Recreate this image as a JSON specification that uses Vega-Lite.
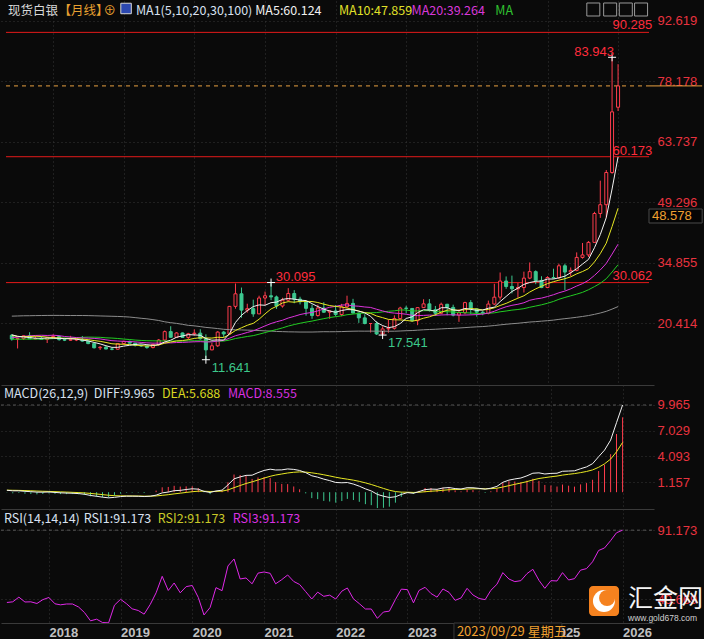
{
"$schema": "https://vega.github.io/schema/vega-lite/v6.json",
"background": "#0a0a0a",
"padding": 0,
"spacing": 0,
"bounds": "flush",
"config": {
  "view": {"stroke": null},
  "axis": {"domain": false, "ticks": false, "title": null, "gridColor": "#363636", "gridDash": [1, 3], "gridWidth": 1, "labelFont": "Liberation Sans", "labelFontSize": 13, "labelColor": "#e8333f", "labelPadding": 3}
},
"datasets": {
"k": [
{"d":"2017-06-01","o":17.5,"h":17.75,"l":16.2,"c":16.58,"m5":17.6,"m10":17.45,"m20":16.91,"m30":16.55,"m100":22.06,"dif":0.221,"dea":0.234,"macd":-0.026,"rsi":47.8},
{"d":"2017-07-01","o":16.58,"h":16.95,"l":14.33,"c":16.68,"m5":17.25,"m10":17.2,"m20":17.04,"m30":16.54,"m100":22.1,"dif":0.157,"dea":0.219,"macd":-0.124,"rsi":48.2},
{"d":"2017-08-01","o":16.68,"h":17.48,"l":16.37,"c":17.36,"m5":17.08,"m10":17.16,"m20":17.22,"m30":16.56,"m100":22.15,"dif":0.159,"dea":0.207,"macd":-0.096,"rsi":51.0},
{"d":"2017-09-01","o":17.36,"h":18.22,"l":16.61,"c":16.65,"m5":16.95,"m10":17.18,"m20":17.35,"m30":16.56,"m100":22.16,"dif":0.101,"dea":0.186,"macd":-0.17,"rsi":48.1},
{"d":"2017-10-01","o":16.65,"h":17.38,"l":16.51,"c":16.7,"m5":16.79,"m10":17.26,"m20":17.44,"m30":16.58,"m100":22.19,"dif":0.06,"dea":0.161,"macd":-0.202,"rsi":48.2},
{"d":"2017-11-01","o":16.7,"h":17.35,"l":16.45,"c":16.47,"m5":16.77,"m10":17.18,"m20":17.49,"m30":16.56,"m100":22.21,"dif":0.008,"dea":0.13,"macd":-0.244,"rsi":47.2},
{"d":"2017-12-01","o":16.47,"h":17.1,"l":15.63,"c":16.92,"m5":16.82,"m10":17.04,"m20":17.44,"m30":16.61,"m100":22.23,"dif":0.003,"dea":0.105,"macd":-0.204,"rsi":49.5},
{"d":"2018-01-01","o":16.92,"h":17.7,"l":16.9,"c":17.2,"m5":16.79,"m10":16.94,"m20":17.5,"m30":16.69,"m100":22.24,"dif":0.021,"dea":0.088,"macd":-0.134,"rsi":50.8},
{"d":"2018-02-01","o":17.2,"h":17.42,"l":16.2,"c":16.43,"m5":16.74,"m10":16.85,"m20":17.39,"m30":16.75,"m100":22.24,"dif":-0.026,"dea":0.065,"macd":-0.182,"rsi":47.0},
{"d":"2018-03-01","o":16.43,"h":16.9,"l":16.1,"c":16.32,"m5":16.67,"m10":16.73,"m20":17.2,"m30":16.81,"m100":22.22,"dif":-0.071,"dea":0.038,"macd":-0.218,"rsi":46.4},
{"d":"2018-04-01","o":16.32,"h":17.35,"l":16.18,"c":16.4,"m5":16.65,"m10":16.71,"m20":17.08,"m30":16.84,"m100":22.21,"dif":-0.099,"dea":0.011,"macd":-0.22,"rsi":46.9},
{"d":"2018-05-01","o":16.4,"h":16.72,"l":16.1,"c":16.4,"m5":16.55,"m10":16.69,"m20":16.94,"m30":16.92,"m100":22.21,"dif":-0.12,"dea":-0.015,"macd":-0.21,"rsi":46.9},
{"d":"2018-06-01","o":16.4,"h":17.32,"l":15.96,"c":16.1,"m5":16.33,"m10":16.56,"m20":16.86,"m30":17.0,"m100":22.21,"dif":-0.159,"dea":-0.044,"macd":-0.23,"rsi":45.1},
{"d":"2018-07-01","o":16.1,"h":16.2,"l":15.35,"c":15.5,"m5":16.14,"m10":16.44,"m20":16.81,"m30":17.05,"m100":22.19,"dif":-0.236,"dea":-0.082,"macd":-0.308,"rsi":41.8},
{"d":"2018-08-01","o":15.5,"h":15.56,"l":14.34,"c":14.5,"m5":15.78,"m10":16.22,"m20":16.74,"m30":17.03,"m100":22.15,"dif":-0.373,"dea":-0.14,"macd":-0.466,"rsi":36.8},
{"d":"2018-09-01","o":14.5,"h":14.9,"l":13.97,"c":14.63,"m5":15.43,"m10":16.04,"m20":16.61,"m30":17.0,"m100":22.11,"dif":-0.465,"dea":-0.205,"macd":-0.52,"rsi":37.8},
{"d":"2018-10-01","o":14.63,"h":14.97,"l":14.17,"c":14.2,"m5":14.99,"m10":15.77,"m20":16.4,"m30":16.88,"m100":22.07,"dif":-0.567,"dea":-0.277,"macd":-0.58,"rsi":35.8},
{"d":"2018-11-01","o":14.2,"h":14.54,"l":13.9,"c":14.15,"m5":14.6,"m10":15.46,"m20":16.2,"m30":16.82,"m100":22.03,"dif":-0.644,"dea":-0.35,"macd":-0.588,"rsi":35.6},
{"d":"2018-12-01","o":14.15,"h":15.6,"l":14.1,"c":15.5,"m5":14.6,"m10":15.37,"m20":16.11,"m30":16.72,"m100":21.99,"dif":-0.59,"dea":-0.398,"macd":-0.384,"rsi":46.2},
{"d":"2019-01-01","o":15.5,"h":16.19,"l":15.25,"c":16.03,"m5":14.9,"m10":15.34,"m20":16.04,"m30":16.58,"m100":21.93,"dif":-0.499,"dea":-0.418,"macd":-0.162,"rsi":49.7},
{"d":"2019-02-01","o":16.03,"h":16.2,"l":15.55,"c":15.6,"m5":15.1,"m10":15.26,"m20":15.99,"m30":16.47,"m100":21.84,"dif":-0.456,"dea":-0.426,"macd":-0.06,"rsi":47.0},
{"d":"2019-03-01","o":15.6,"h":15.68,"l":14.8,"c":15.11,"m5":15.28,"m10":15.13,"m20":15.91,"m30":16.34,"m100":21.71,"dif":-0.456,"dea":-0.432,"macd":-0.048,"rsi":44.0},
{"d":"2019-04-01","o":15.11,"h":15.33,"l":14.7,"c":14.93,"m5":15.43,"m10":15.02,"m20":15.79,"m30":16.25,"m100":21.55,"dif":-0.465,"dea":-0.439,"macd":-0.052,"rsi":43.0},
{"d":"2019-05-01","o":14.93,"h":14.98,"l":14.26,"c":14.55,"m5":15.24,"m10":14.92,"m20":15.68,"m30":16.18,"m100":21.42,"dif":-0.497,"dea":-0.451,"macd":-0.092,"rsi":40.8},
{"d":"2019-06-01","o":14.55,"h":15.49,"l":14.35,"c":15.28,"m5":15.09,"m10":15.0,"m20":15.61,"m30":16.16,"m100":21.23,"dif":-0.458,"dea":-0.452,"macd":-0.012,"rsi":46.6},
{"d":"2019-07-01","o":15.28,"h":16.6,"l":14.98,"c":16.35,"m5":15.24,"m10":15.17,"m20":15.61,"m30":16.13,"m100":21.02,"dif":-0.338,"dea":-0.429,"macd":0.182,"rsi":53.6},
{"d":"2019-08-01","o":16.35,"h":18.63,"l":16.02,"c":18.36,"m5":15.89,"m10":15.59,"m20":15.68,"m30":16.13,"m100":20.71,"dif":-0.079,"dea":-0.359,"macd":0.56,"rsi":63.5},
{"d":"2019-09-01","o":18.36,"h":19.65,"l":16.95,"c":17.0,"m5":16.31,"m10":15.87,"m20":15.67,"m30":16.09,"m100":20.5,"dif":0.016,"dea":-0.284,"macd":0.6,"rsi":55.0},
{"d":"2019-10-01","o":17.0,"h":18.2,"l":16.88,"c":18.04,"m5":17.01,"m10":16.13,"m20":15.75,"m30":16.11,"m100":20.33,"dif":0.174,"dea":-0.192,"macd":0.732,"rsi":59.5},
{"d":"2019-11-01","o":18.04,"h":18.15,"l":16.85,"c":16.97,"m5":17.34,"m10":16.22,"m20":15.78,"m30":16.1,"m100":20.1,"dif":0.21,"dea":-0.112,"macd":0.644,"rsi":53.6},
{"d":"2019-12-01","o":16.97,"h":18.07,"l":16.6,"c":17.85,"m5":17.64,"m10":16.44,"m20":15.85,"m30":16.14,"m100":19.86,"dif":0.306,"dea":-0.028,"macd":0.668,"rsi":57.3},
{"d":"2020-01-01","o":17.85,"h":18.9,"l":17.38,"c":18.0,"m5":17.57,"m10":16.73,"m20":15.93,"m30":16.18,"m100":19.74,"dif":0.39,"dea":0.056,"macd":0.668,"rsi":58.0},
{"d":"2020-02-01","o":18.0,"h":18.93,"l":16.44,"c":16.66,"m5":17.5,"m10":16.91,"m20":15.96,"m30":16.16,"m100":19.56,"dif":0.345,"dea":0.114,"macd":0.462,"rsi":50.8},
{"d":"2020-03-01","o":16.66,"h":17.72,"l":11.641,"c":14.0,"m5":16.7,"m10":16.85,"m20":15.89,"m30":16.07,"m100":19.37,"dif":0.093,"dea":0.11,"macd":-0.034,"rsi":40.3},
{"d":"2020-04-01","o":14.0,"h":15.71,"l":13.9,"c":14.97,"m5":16.3,"m10":16.82,"m20":15.91,"m30":16.01,"m100":19.24,"dif":-0.028,"dea":0.082,"macd":-0.22,"rsi":44.8},
{"d":"2020-05-01","o":14.97,"h":18.47,"l":14.7,"c":18.25,"m5":16.38,"m10":17.01,"m20":16.09,"m30":16.07,"m100":19.09,"dif":0.139,"dea":0.093,"macd":0.092,"rsi":56.7},
{"d":"2020-06-01","o":18.25,"h":18.52,"l":17.0,"c":17.8,"m5":16.34,"m10":16.95,"m20":16.27,"m30":16.1,"m100":18.92,"dif":0.232,"dea":0.121,"macd":0.222,"rsi":54.9},
{"d":"2020-07-01","o":17.8,"h":24.5,"l":17.8,"c":24.4,"m5":17.88,"m10":17.69,"m20":16.78,"m30":16.34,"m100":18.84,"dif":0.829,"dea":0.263,"macd":1.132,"rsi":69.7},
{"d":"2020-08-01","o":24.4,"h":29.86,"l":23.83,"c":27.4,"m5":20.56,"m10":18.63,"m20":17.38,"m30":16.71,"m100":18.8,"dif":1.527,"dea":0.516,"macd":2.022,"rsi":73.9},
{"d":"2020-09-01","o":27.4,"h":28.9,"l":21.68,"c":23.5,"m5":22.27,"m10":19.28,"m20":17.75,"m30":16.95,"m100":18.76,"dif":1.745,"dea":0.762,"macd":1.966,"rsi":61.9},
{"d":"2020-10-01","o":23.5,"h":25.03,"l":22.9,"c":23.85,"m5":23.39,"m10":19.88,"m20":18.16,"m30":17.2,"m100":18.72,"dif":1.924,"dea":0.994,"macd":1.86,"rsi":62.5},
{"d":"2020-11-01","o":23.85,"h":26.0,"l":21.9,"c":22.6,"m5":24.35,"m10":20.34,"m20":18.54,"m30":17.4,"m100":18.67,"dif":1.943,"dea":1.184,"macd":1.518,"rsi":59.0},
{"d":"2020-12-01","o":22.6,"h":26.95,"l":22.55,"c":26.4,"m5":24.75,"m10":21.32,"m20":19.11,"m30":17.75,"m100":18.62,"dif":2.238,"dea":1.395,"macd":1.686,"rsi":65.4},
{"d":"2021-01-01","o":26.4,"h":27.93,"l":24.67,"c":26.93,"m5":24.66,"m10":22.61,"m20":19.73,"m30":18.13,"m100":18.54,"dif":2.486,"dea":1.613,"macd":1.746,"rsi":66.1},
{"d":"2021-02-01","o":26.93,"h":30.095,"l":25.87,"c":26.65,"m5":25.29,"m10":23.78,"m20":20.3,"m30":18.53,"m100":18.49,"dif":2.63,"dea":1.816,"macd":1.628,"rsi":65.3},
{"d":"2021-03-01","o":26.65,"h":26.98,"l":23.78,"c":24.48,"m5":25.41,"m10":24.4,"m20":20.71,"m30":18.86,"m100":18.4,"dif":2.539,"dea":1.961,"macd":1.156,"rsi":59.0},
{"d":"2021-04-01","o":24.48,"h":26.46,"l":24.1,"c":25.88,"m5":26.07,"m10":25.21,"m20":21.08,"m30":19.25,"m100":18.36,"dif":2.551,"dea":2.079,"macd":0.944,"rsi":61.5},
{"d":"2021-05-01","o":25.88,"h":28.75,"l":25.6,"c":27.47,"m5":26.28,"m10":25.52,"m20":21.61,"m30":19.69,"m100":18.31,"dif":2.658,"dea":2.195,"macd":0.926,"rsi":64.3},
{"d":"2021-06-01","o":27.47,"h":28.28,"l":25.14,"c":26.13,"m5":26.12,"m10":25.39,"m20":22.01,"m30":20.05,"m100":18.29,"dif":2.605,"dea":2.277,"macd":0.656,"rsi":60.4},
{"d":"2021-07-01","o":26.13,"h":26.7,"l":24.87,"c":25.5,"m5":25.89,"m10":25.59,"m20":22.44,"m30":20.36,"m100":18.26,"dif":2.484,"dea":2.318,"macd":0.332,"rsi":58.6},
{"d":"2021-08-01","o":25.5,"h":25.52,"l":22.18,"c":23.93,"m5":25.78,"m10":25.6,"m20":22.74,"m30":20.64,"m100":18.26,"dif":2.235,"dea":2.301,"macd":-0.132,"rsi":54.3},
{"d":"2021-09-01","o":23.93,"h":24.83,"l":21.42,"c":22.2,"m5":25.05,"m10":25.56,"m20":22.95,"m30":20.88,"m100":18.26,"dif":1.877,"dea":2.216,"macd":-0.678,"rsi":49.9},
{"d":"2021-10-01","o":22.2,"h":24.82,"l":21.95,"c":24.0,"m5":24.35,"m10":25.32,"m20":23.32,"m30":21.18,"m100":18.3,"dif":1.718,"dea":2.116,"macd":-0.796,"rsi":54.0},
{"d":"2021-11-01","o":24.0,"h":25.4,"l":22.85,"c":23.0,"m5":23.73,"m10":24.92,"m20":23.77,"m30":21.46,"m100":18.34,"dif":1.494,"dea":1.992,"macd":-0.996,"rsi":51.5},
{"d":"2021-12-01","o":23.0,"h":23.44,"l":21.42,"c":23.3,"m5":23.29,"m10":24.59,"m20":24.18,"m30":21.73,"m100":18.33,"dif":1.326,"dea":1.859,"macd":-1.066,"rsi":52.2},
{"d":"2022-01-01","o":23.3,"h":24.7,"l":22.0,"c":22.45,"m5":22.99,"m10":24.39,"m20":24.39,"m30":21.93,"m100":18.34,"dif":1.111,"dea":1.709,"macd":-1.196,"rsi":49.9},
{"d":"2022-02-01","o":22.45,"h":25.0,"l":22.05,"c":24.3,"m5":23.41,"m10":24.23,"m20":24.72,"m30":22.13,"m100":18.37,"dif":1.077,"dea":1.583,"macd":-1.012,"rsi":54.6},
{"d":"2022-03-01","o":24.3,"h":26.95,"l":24.0,"c":25.1,"m5":23.63,"m10":23.99,"m20":24.75,"m30":22.4,"m100":18.42,"dif":1.103,"dea":1.487,"macd":-0.768,"rsi":56.5},
{"d":"2022-04-01","o":25.1,"h":26.2,"l":22.7,"c":22.8,"m5":23.59,"m10":23.66,"m20":24.52,"m30":22.56,"m100":18.46,"dif":0.927,"dea":1.375,"macd":-0.896,"rsi":50.0},
{"d":"2022-05-01","o":22.8,"h":22.9,"l":20.45,"c":21.65,"m5":23.26,"m10":23.27,"m20":24.43,"m30":22.72,"m100":18.48,"dif":0.687,"dea":1.237,"macd":-1.1,"rsi":47.1},
{"d":"2022-06-01","o":21.65,"h":22.5,"l":20.1,"c":20.3,"m5":22.83,"m10":22.91,"m20":24.25,"m30":22.8,"m100":18.47,"dif":0.383,"dea":1.066,"macd":-1.366,"rsi":43.9},
{"d":"2022-07-01","o":20.3,"h":20.4,"l":18.15,"c":20.3,"m5":22.03,"m10":22.72,"m20":24.14,"m30":22.87,"m100":18.48,"dif":0.141,"dea":0.881,"macd":-1.48,"rsi":43.9},
{"d":"2022-08-01","o":20.3,"h":20.85,"l":17.55,"c":17.8,"m5":20.57,"m10":22.1,"m20":23.71,"m30":22.91,"m100":18.46,"dif":-0.25,"dea":0.655,"macd":-1.81,"rsi":38.3},
{"d":"2022-09-01","o":17.8,"h":19.65,"l":17.541,"c":19.0,"m5":19.81,"m10":21.7,"m20":23.31,"m30":23.08,"m100":18.47,"dif":-0.458,"dea":0.432,"macd":-1.78,"rsi":42.1},
{"d":"2022-10-01","o":19.0,"h":21.25,"l":18.1,"c":19.15,"m5":19.31,"m10":21.29,"m20":22.94,"m30":23.22,"m100":18.45,"dif":-0.604,"dea":0.225,"macd":-1.658,"rsi":42.6},
{"d":"2022-11-01","o":19.15,"h":22.25,"l":18.85,"c":21.5,"m5":19.55,"m10":21.19,"m20":22.79,"m30":23.33,"m100":18.46,"dif":-0.523,"dea":0.075,"macd":-1.196,"rsi":49.6},
{"d":"2022-12-01","o":21.5,"h":24.3,"l":21.3,"c":24.0,"m5":20.29,"m10":21.16,"m20":22.69,"m30":23.53,"m100":18.51,"dif":-0.255,"dea":0.009,"macd":-0.528,"rsi":55.8},
{"d":"2023-01-01","o":24.0,"h":24.55,"l":22.75,"c":23.9,"m5":21.51,"m10":21.04,"m20":22.52,"m30":23.52,"m100":18.58,"dif":-0.05,"dea":-0.003,"macd":-0.094,"rsi":55.5},
{"d":"2023-02-01","o":23.9,"h":24.0,"l":20.7,"c":20.97,"m5":21.9,"m10":20.86,"m20":22.26,"m30":23.3,"m100":18.62,"dif":-0.123,"dea":-0.027,"macd":-0.192,"rsi":47.6},
{"d":"2023-03-01","o":20.97,"h":24.2,"l":19.9,"c":24.1,"m5":22.89,"m10":21.1,"m20":22.19,"m30":23.32,"m100":18.71,"dif":0.071,"dea":-0.007,"macd":0.156,"rsi":55.0},
{"d":"2023-04-01","o":24.1,"h":26.1,"l":24.0,"c":25.0,"m5":23.59,"m10":21.57,"m20":22.24,"m30":23.36,"m100":18.8,"dif":0.294,"dea":0.053,"macd":0.482,"rsi":56.9},
{"d":"2023-05-01","o":25.0,"h":26.15,"l":23.15,"c":23.6,"m5":23.51,"m10":21.9,"m20":22.31,"m30":23.39,"m100":18.87,"dif":0.354,"dea":0.113,"macd":0.482,"rsi":53.2},
{"d":"2023-06-01","o":23.6,"h":24.5,"l":22.1,"c":22.75,"m5":23.28,"m10":22.4,"m20":22.25,"m30":23.27,"m100":18.93,"dif":0.33,"dea":0.156,"macd":0.348,"rsi":51.0},
{"d":"2023-07-01","o":22.75,"h":25.3,"l":22.5,"c":24.9,"m5":24.07,"m10":22.99,"m20":22.34,"m30":23.2,"m100":19.01,"dif":0.478,"dea":0.22,"macd":0.516,"rsi":55.9},
{"d":"2023-08-01","o":24.9,"h":25.0,"l":22.25,"c":24.15,"m5":24.08,"m10":23.49,"m20":22.39,"m30":23.12,"m100":19.09,"dif":0.529,"dea":0.282,"macd":0.494,"rsi":53.9},
{"d":"2023-09-01","o":24.15,"h":24.8,"l":22.0,"c":22.3,"m5":23.54,"m10":23.57,"m20":22.38,"m30":23.05,"m100":19.15,"dif":0.415,"dea":0.309,"macd":0.212,"rsi":49.1},
{"d":"2023-10-01","o":22.3,"h":23.7,"l":20.7,"c":22.85,"m5":23.39,"m10":23.45,"m20":22.31,"m30":22.95,"m100":19.22,"dif":0.365,"dea":0.32,"macd":0.09,"rsi":50.5},
{"d":"2023-11-01","o":22.85,"h":25.5,"l":22.5,"c":25.3,"m5":23.9,"m10":23.59,"m20":22.32,"m30":22.87,"m100":19.32,"dif":0.517,"dea":0.359,"macd":0.316,"rsi":56.3},
{"d":"2023-12-01","o":25.3,"h":25.9,"l":22.5,"c":23.8,"m5":23.68,"m10":23.88,"m20":22.37,"m30":22.8,"m100":19.42,"dif":0.511,"dea":0.389,"macd":0.244,"rsi":52.3},
{"d":"2024-01-01","o":23.8,"h":23.9,"l":21.93,"c":23.0,"m5":23.45,"m10":23.77,"m20":22.43,"m30":22.71,"m100":19.5,"dif":0.436,"dea":0.398,"macd":0.076,"rsi":50.2},
{"d":"2024-02-01","o":23.0,"h":23.3,"l":22.28,"c":22.7,"m5":23.53,"m10":23.54,"m20":22.55,"m30":22.67,"m100":19.57,"dif":0.349,"dea":0.388,"macd":-0.078,"rsi":49.5},
{"d":"2024-03-01","o":22.7,"h":25.77,"l":22.5,"c":24.95,"m5":23.95,"m10":23.67,"m20":22.79,"m30":22.76,"m100":19.68,"dif":0.456,"dea":0.402,"macd":0.108,"rsi":55.1},
{"d":"2024-04-01","o":24.95,"h":29.8,"l":24.7,"c":26.6,"m5":24.21,"m10":24.06,"m20":23.23,"m30":22.85,"m100":19.81,"dif":0.667,"dea":0.455,"macd":0.424,"rsi":58.7},
{"d":"2024-05-01","o":26.6,"h":32.5,"l":26.0,"c":30.45,"m5":25.54,"m10":24.61,"m20":23.8,"m30":23.1,"m100":19.97,"dif":1.131,"dea":0.59,"macd":1.082,"rsi":65.7},
{"d":"2024-06-01","o":30.45,"h":31.55,"l":28.6,"c":29.15,"m5":26.77,"m10":25.11,"m20":24.3,"m30":23.29,"m100":20.12,"dif":1.378,"dea":0.748,"macd":1.26,"rsi":61.9},
{"d":"2024-07-01","o":29.15,"h":31.75,"l":27.5,"c":28.6,"m5":27.95,"m10":25.74,"m20":24.65,"m30":23.5,"m100":20.25,"dif":1.512,"dea":0.901,"macd":1.222,"rsi":60.3},
{"d":"2024-08-01","o":28.6,"h":30.0,"l":26.45,"c":28.9,"m5":28.74,"m10":26.35,"m20":24.9,"m30":23.65,"m100":20.36,"dif":1.624,"dea":1.046,"macd":1.156,"rsi":60.9},
{"d":"2024-09-01","o":28.9,"h":32.7,"l":27.7,"c":31.15,"m5":29.65,"m10":26.93,"m20":25.26,"m30":23.85,"m100":20.51,"dif":1.872,"dea":1.211,"macd":1.322,"rsi":65.1},
{"d":"2024-10-01","o":31.15,"h":34.9,"l":30.9,"c":32.7,"m5":30.1,"m10":27.82,"m20":25.85,"m30":24.18,"m100":20.65,"dif":2.169,"dea":1.403,"macd":1.532,"rsi":67.7},
{"d":"2024-11-01","o":32.7,"h":33.0,"l":29.7,"c":30.6,"m5":30.39,"m10":28.58,"m20":26.17,"m30":24.48,"m100":20.75,"dif":2.21,"dea":1.564,"macd":1.292,"rsi":61.1},
{"d":"2024-12-01","o":30.6,"h":31.6,"l":28.75,"c":28.9,"m5":30.45,"m10":29.2,"m20":26.37,"m30":24.77,"m100":20.86,"dif":2.081,"dea":1.667,"macd":0.828,"rsi":56.3},
{"d":"2025-01-01","o":28.9,"h":31.6,"l":28.75,"c":31.3,"m5":30.93,"m10":29.84,"m20":26.75,"m30":25.14,"m100":20.98,"dif":2.148,"dea":1.763,"macd":0.77,"rsi":60.9},
{"d":"2025-02-01","o":31.3,"h":33.4,"l":31.0,"c":31.2,"m5":30.94,"m10":30.3,"m20":27.18,"m30":25.58,"m100":21.11,"dif":2.168,"dea":1.844,"macd":0.648,"rsi":60.7},
{"d":"2025-03-01","o":31.2,"h":34.6,"l":31.0,"c":34.1,"m5":31.22,"m10":30.66,"m20":27.64,"m30":26.09,"m100":21.29,"dif":2.391,"dea":1.953,"macd":0.876,"rsi":65.7},
{"d":"2025-04-01","o":34.1,"h":34.6,"l":28.3,"c":32.6,"m5":31.62,"m10":31.01,"m20":28.06,"m30":26.53,"m100":21.46,"dif":2.418,"dea":2.046,"macd":0.744,"rsi":61.3},
{"d":"2025-05-01","o":32.6,"h":33.7,"l":31.65,"c":33.0,"m5":32.44,"m10":31.45,"m20":28.59,"m30":26.92,"m100":21.61,"dif":2.443,"dea":2.125,"macd":0.636,"rsi":62.1},
{"d":"2025-06-01","o":33.0,"h":37.3,"l":32.8,"c":36.1,"m5":33.4,"m10":32.17,"m20":29.26,"m30":27.32,"m100":21.79,"dif":2.683,"dea":2.237,"macd":0.892,"rsi":67.2},
{"d":"2025-07-01","o":36.1,"h":39.55,"l":35.8,"c":36.7,"m5":34.5,"m10":32.72,"m20":29.83,"m30":27.75,"m100":21.98,"dif":2.888,"dea":2.367,"macd":1.042,"rsi":68.1},
{"d":"2025-08-01","o":36.7,"h":40.0,"l":36.2,"c":39.7,"m5":35.62,"m10":33.42,"m20":30.62,"m30":28.37,"m100":22.2,"dif":3.255,"dea":2.545,"macd":1.42,"rsi":72.2},
{"d":"2025-09-01","o":39.7,"h":47.0,"l":39.6,"c":46.6,"m5":38.42,"m10":35.02,"m20":31.8,"m30":29.12,"m100":22.49,"dif":4.056,"dea":2.847,"macd":2.418,"rsi":79.0},
{"d":"2025-10-01","o":46.6,"h":54.45,"l":45.55,"c":48.7,"m5":41.56,"m10":37.0,"m20":33.1,"m30":29.91,"m100":22.81,"dif":4.805,"dea":3.239,"macd":3.132,"rsi":80.5},
{"d":"2025-11-01","o":48.7,"h":57.0,"l":45.6,"c":56.4,"m5":45.62,"m10":39.51,"m20":34.67,"m30":31.01,"m100":23.21,"dif":5.952,"dea":3.782,"macd":4.34,"rsi":84.9},
{"d":"2025-12-01","o":56.4,"h":83.943,"l":56.1,"c":70.9,"m5":52.46,"m10":43.48,"m20":36.89,"m30":32.61,"m100":23.74,"dif":7.94,"dea":4.614,"macd":6.652,"rsi":89.6},
{"d":"2026-01-01","o":72.0,"h":82.3,"l":71.1,"c":77.1,"m5":60.124,"m10":47.859,"m20":39.264,"m30":34.36,"m100":24.35,"dif":9.965,"dea":5.688,"macd":8.555,"rsi":91.173}
]
},
"vconcat": [
{
  "width": 653, "height": 384,
  "data": {"name": "k"},
  "encoding": {
    "x": {"field": "d", "type": "temporal",
      "scale": {"type": "utc", "domain": [{"year": 2017, "month": 5, "date": 2, "utc": true}, {"year": 2026, "month": 6, "date": 10, "utc": true}]},
      "axis": {"values": [{"year":2018,"month":1,"date":1,"utc":true},{"year":2019,"month":1,"date":1,"utc":true},{"year":2020,"month":1,"date":1,"utc":true},{"year":2021,"month":1,"date":1,"utc":true},{"year":2022,"month":1,"date":1,"utc":true},{"year":2023,"month":1,"date":1,"utc":true},{"year":2024,"month":1,"date":1,"utc":true},{"year":2025,"month":1,"date":1,"utc":true},{"year":2026,"month":1,"date":1,"utc":true}],
        "labels": false, "grid": true, "domain": true, "domainColor": "#3a3a3a", "ticks": false, "title": null}}
  },
  "layer": [
    {"data": {"values": [{"d":"2017-05-02","d2":"2026-06-10","p":89.9},{"d":"2017-05-02","d2":"2026-06-10","p":60.173},{"d":"2017-05-02","d2":"2026-06-10","p":30.08}]},
     "mark": {"type": "rule", "color": "#e41a1a", "strokeWidth": 1},
     "encoding": {"x2": {"field": "d2"}, "y": {"field": "p", "type": "quantitative", "scale": {"domain": [5.6, 97.4], "nice": false, "zero": false},
       "axis": {"orient": "right", "values": [92.619, 78.178, 63.737, 49.296, 34.855, 20.414], "format": ".3f", "grid": true, "labelPadding": 3}}}},
    {"data": {"values": [{"d":"2017-05-02","d2":"2026-06-10","p":77.1}]},
     "mark": {"type": "rule", "color": "#e8a040", "strokeWidth": 1, "strokeDash": [4, 4]},
     "encoding": {"x2": {"field": "d2"}, "y": {"field": "p", "type": "quantitative", "scale": {"domain": [5.6, 97.4], "nice": false, "zero": false}}}},
    {"data": {"values": [{"d":"2026-06-10","d2":"2027-03-12","p":77.1}]},
     "mark": {"type": "rule", "color": "#e8a040", "strokeWidth": 1},
     "encoding": {"x2": {"field": "d2"}, "y": {"field": "p", "type": "quantitative", "scale": {"domain": [5.6, 97.4], "nice": false, "zero": false}}}},
    {"mark": {"type": "rule", "strokeWidth": 1},
     "encoding": {"y": {"field": "l", "type": "quantitative", "scale": {"domain": [5.6, 97.4], "nice": false, "zero": false}}, "y2": {"field": "h"},
       "color": {"condition": {"test": "datum.c >= datum.o", "value": "#ff3d4d"}, "value": "#3dc890"}}},
    {"mark": {"type": "bar", "size": 3, "strokeWidth": 1},
     "encoding": {"y": {"field": "o", "type": "quantitative", "scale": {"domain": [5.6, 97.4], "nice": false, "zero": false}}, "y2": {"field": "c"},
       "fill": {"condition": {"test": "datum.c >= datum.o", "value": "#0a0a0a"}, "value": "#3dc890"},
       "stroke": {"condition": {"test": "datum.c >= datum.o", "value": "#ff3d4d"}, "value": "#3dc890"}}},
    {"transform": [{"fold": ["m100", "m30", "m20", "m10", "m5"], "as": ["key", "val"]}],
     "mark": {"type": "line", "strokeWidth": 1},
     "encoding": {"y": {"field": "val", "type": "quantitative", "scale": {"domain": [5.6, 97.4], "nice": false, "zero": false}},
       "color": {"field": "key", "type": "nominal", "scale": {"domain": ["m100", "m30", "m20", "m10", "m5"], "range": ["#8c8c8c", "#22cc22", "#dd33dd", "#e8e822", "#f2f2f2"]}, "legend": null}}},
    {"data": {"values": [{"d":"2025-12-01","p":83.943},{"d":"2020-03-01","p":11.641},{"d":"2022-09-01","p":17.541},{"d":"2021-02-01","p":30.095}]},
     "mark": {"type": "point", "shape": "M-1,0L1,0M0,-1L0,1", "size": 64, "filled": false, "stroke": "#ffffff", "strokeWidth": 1, "opacity": 1},
     "encoding": {"y": {"field": "p", "type": "quantitative", "scale": {"domain": [5.6, 97.4], "nice": false, "zero": false}}}},
    {"data": {"values": [
       {"d":"2017-05-12","p":95.0,"t":"现货白银","s":"a"},
       {"d":"2018-01-28","p":95.0,"t":"【月线】","s":"b"},
       {"d":"2018-09-18","p":95.0,"t":"⊕","s":"b"},
       {"d":"2019-03-05","p":95.0,"t":"MA1(5,10,20,30,100)","s":"c"},
       {"d":"2020-11-11","p":95.0,"t":"MA5:60.124","s":"m5"},
       {"d":"2022-01-18","p":95.0,"t":"MA10:47.859","s":"m10"},
       {"d":"2023-01-29","p":95.0,"t":"MA20:39.264","s":"m20"},
       {"d":"2024-04-06","p":95.0,"t":"MA","s":"m30"}]},
     "mark": {"type": "text", "align": "left", "baseline": "middle", "font": "Noto Sans CJK SC", "fontSize": 12.5},
     "encoding": {"y": {"field": "p", "type": "quantitative", "scale": {"domain": [5.6, 97.4], "nice": false, "zero": false}}, "text": {"field": "t"},
       "color": {"field": "s", "type": "nominal", "scale": {"domain": ["a", "b", "c", "m5", "m10", "m20", "m30"], "range": ["#d8d8d8", "#e8a030", "#d8e0f0", "#f0f0f0", "#e0e028", "#d838d8", "#30c030"]}, "legend": null}}},
    {"data": {"values": [
       {"d":"2025-12-03","p":91.66,"t":"90.285","s":"r"},
       {"d":"2025-05-19","p":85.21,"t":"83.943","s":"r"},
       {"d":"2025-12-03","p":61.54,"t":"60.173","s":"r"},
       {"d":"2021-02-25","p":31.42,"t":"30.095","s":"r"},
       {"d":"2025-12-03","p":31.66,"t":"30.062","s":"r"},
       {"d":"2020-03-31","p":9.66,"t":"11.641","s":"g"},
       {"d":"2022-09-29","p":15.64,"t":"17.541","s":"g"}]},
     "mark": {"type": "text", "align": "left", "baseline": "middle", "font": "Liberation Sans", "fontSize": 13},
     "encoding": {"y": {"field": "p", "type": "quantitative", "scale": {"domain": [5.6, 97.4], "nice": false, "zero": false}}, "text": {"field": "t"},
       "color": {"field": "s", "type": "nominal", "scale": {"domain": ["r", "g"], "range": ["#ff2c3c", "#3cc88a"]}, "legend": null}}},
    {"data": {"values": [{"d":"2019-01-13","p":95.61}]},
     "mark": {"type": "point", "shape": "square", "size": 110, "filled": true, "fill": "#2c48b0", "stroke": "#d8d8d8", "strokeWidth": 1, "opacity": 1},
     "encoding": {"y": {"field": "p", "type": "quantitative", "scale": {"domain": [5.6, 97.4], "nice": false, "zero": false}}}},
    {"data": {"values": [{"d":"2025-08-26","p":95.37},{"d":"2025-11-21","p":95.37},{"d":"2026-02-10","p":95.37},{"d":"2026-04-30","p":95.37}]},
     "mark": {"type": "point", "shape": "square", "size": 169, "filled": false, "stroke": "#9a9a9a", "strokeWidth": 1, "opacity": 1},
     "encoding": {"y": {"field": "p", "type": "quantitative", "scale": {"domain": [5.6, 97.4], "nice": false, "zero": false}}}},
    {"data": {"values": [{"d":"2026-06-10","d2":"2027-03-12","p":47.67,"p2":44.33}]},
     "mark": {"type": "rect", "fill": "#050505", "stroke": "#4a4a4a", "strokeWidth": 1},
     "encoding": {"x2": {"field": "d2"}, "y": {"field": "p", "type": "quantitative", "scale": {"domain": [5.6, 97.4], "nice": false, "zero": false}}, "y2": {"field": "p2"}}},
    {"data": {"values": [{"d":"2026-06-25","p":46.0,"t":"48.578"}]},
     "mark": {"type": "text", "align": "left", "baseline": "middle", "font": "Liberation Sans", "fontSize": 13, "color": "#f0a030"},
     "encoding": {"y": {"field": "p", "type": "quantitative", "scale": {"domain": [5.6, 97.4], "nice": false, "zero": false}}, "text": {"field": "t"}}}
  ],
  "resolve": {"scale": {"color": "independent"}}
},
{
  "width": 653, "height": 124,
  "data": {"name": "k"},
  "encoding": {
    "x": {"field": "d", "type": "temporal",
      "scale": {"type": "utc", "domain": [{"year": 2017, "month": 5, "date": 2, "utc": true}, {"year": 2026, "month": 6, "date": 10, "utc": true}]},
      "axis": {"values": [{"year":2018,"month":1,"date":1,"utc":true},{"year":2019,"month":1,"date":1,"utc":true},{"year":2020,"month":1,"date":1,"utc":true},{"year":2021,"month":1,"date":1,"utc":true},{"year":2022,"month":1,"date":1,"utc":true},{"year":2023,"month":1,"date":1,"utc":true},{"year":2024,"month":1,"date":1,"utc":true},{"year":2025,"month":1,"date":1,"utc":true},{"year":2026,"month":1,"date":1,"utc":true}],
        "labels": false, "grid": true, "domain": true, "domainColor": "#3a3a3a", "ticks": false, "title": null}}
  },
  "layer": [
    {"data": {"values": [{"d":"2017-05-02","d2":"2026-06-10","v":9.965}]},
     "mark": {"type": "rule", "color": "#555555", "strokeWidth": 1, "strokeDash": [3, 3]},
     "encoding": {"x2": {"field": "d2"}, "y": {"field": "v", "type": "quantitative", "scale": {"domain": [-1.92, 12.25], "nice": false, "zero": false},
       "axis": {"orient": "right", "values": [9.965, 7.029, 4.093, 1.157], "format": ".3f", "grid": true, "labelPadding": 3}}}},
    {"mark": {"type": "rule", "strokeWidth": 1},
     "encoding": {"y": {"field": "macd", "type": "quantitative", "scale": {"domain": [-1.92, 12.25], "nice": false, "zero": false}}, "y2": {"datum": 0},
       "color": {"condition": {"test": "datum.macd >= 0", "value": "#ff3d4d"}, "value": "#3dc890"}}},
    {"transform": [{"fold": ["dea", "dif"], "as": ["key", "val"]}],
     "mark": {"type": "line", "strokeWidth": 1},
     "encoding": {"y": {"field": "val", "type": "quantitative", "scale": {"domain": [-1.92, 12.25], "nice": false, "zero": false}},
       "color": {"field": "key", "type": "nominal", "scale": {"domain": ["dea", "dif"], "range": ["#e8e822", "#f2f2f2"]}, "legend": null}}},
    {"data": {"values": [
       {"d":"2017-05-17","v":11.22,"t":"MACD(26,12,9)","s":"a"},
       {"d":"2018-08-18","v":11.22,"t":"DIFF:9.965","s":"a"},
       {"d":"2019-07-31","v":11.22,"t":"DEA:5.688","s":"y"},
       {"d":"2020-07-01","v":11.22,"t":"MACD:8.555","s":"m"}]},
     "mark": {"type": "text", "align": "left", "baseline": "middle", "font": "Noto Sans CJK SC", "fontSize": 12.5},
     "encoding": {"y": {"field": "v", "type": "quantitative", "scale": {"domain": [-1.92, 12.25], "nice": false, "zero": false}}, "text": {"field": "t"},
       "color": {"field": "s", "type": "nominal", "scale": {"domain": ["a", "y", "m"], "range": ["#d8e0f0", "#d8d820", "#d830e0"]}, "legend": null}}}
  ],
  "resolve": {"scale": {"color": "independent"}}
},
{
  "width": 653, "height": 114,
  "data": {"name": "k"},
  "encoding": {
    "x": {"field": "d", "type": "temporal",
      "scale": {"type": "utc", "domain": [{"year": 2017, "month": 5, "date": 2, "utc": true}, {"year": 2026, "month": 6, "date": 10, "utc": true}]},
      "axis": {"values": [{"year":2018,"month":1,"date":1,"utc":true},{"year":2019,"month":1,"date":1,"utc":true},{"year":2020,"month":1,"date":1,"utc":true},{"year":2021,"month":1,"date":1,"utc":true},{"year":2022,"month":1,"date":1,"utc":true},{"year":2023,"month":1,"date":1,"utc":true},{"year":2024,"month":1,"date":1,"utc":true},{"year":2025,"month":1,"date":1,"utc":true},{"year":2026,"month":1,"date":1,"utc":true}],
        "labels": true, "labelExpr": "utcFormat(datum.value, '%Y')", "labelAlign": "left", "labelFlush": false, "labelOverlap": false, "labelBaseline": "top",
        "labelColor": "#c0c0c0", "labelFontWeight": "bold", "labelFontSize": 13, "labelPadding": 3,
        "grid": true, "domain": true, "domainColor": "#3a3a3a", "ticks": false, "title": null}}
  },
  "layer": [
    {"data": {"values": [{"d":"2017-05-02","d2":"2026-06-10","v":91.173}]},
     "mark": {"type": "rule", "color": "#555555", "strokeWidth": 1, "strokeDash": [3, 3]},
     "encoding": {"x2": {"field": "d2"}, "y": {"field": "v", "type": "quantitative", "scale": {"domain": [35.5, 103.86], "nice": false, "zero": false},
       "axis": {"orient": "right", "values": [91.173, 77.338, 63.504, 49.669], "format": ".3f", "grid": true, "labelPadding": 3}}}},
    {"mark": {"type": "line", "strokeWidth": 1, "color": "#e028e8", "clip": true},
     "encoding": {"y": {"field": "rsi", "type": "quantitative", "scale": {"domain": [35.5, 103.86], "nice": false, "zero": false}}}},
    {"data": {"values": [
       {"d":"2017-05-17","v":97.86,"t":"RSI(14,14,14)","s":"a"},
       {"d":"2018-06-28","v":97.86,"t":"RSI1:91.173","s":"a"},
       {"d":"2019-07-10","v":97.86,"t":"RSI2:91.173","s":"y"},
       {"d":"2020-07-26","v":97.86,"t":"RSI3:91.173","s":"m"}]},
     "mark": {"type": "text", "align": "left", "baseline": "middle", "font": "Noto Sans CJK SC", "fontSize": 12.5},
     "encoding": {"y": {"field": "v", "type": "quantitative", "scale": {"domain": [35.5, 103.86], "nice": false, "zero": false}}, "text": {"field": "t"},
       "color": {"field": "s", "type": "nominal", "scale": {"domain": ["a", "y", "m"], "range": ["#d8e0f0", "#c8c828", "#d830e0"]}, "legend": null}}},
    {"data": {"values": [{"d":"2023-08-26","d2":"2025-02-26","v":35.5,"v2":25.3}]},
     "mark": {"type": "rect", "fill": "#0c0c0c", "stroke": "#3a3a3a", "strokeWidth": 1},
     "encoding": {"x2": {"field": "d2"}, "y": {"field": "v", "type": "quantitative", "scale": {"domain": [35.5, 103.86], "nice": false, "zero": false}}, "y2": {"field": "v2"}}},
    {"data": {"values": [{"d":"2023-09-10","v":30.4,"t":"2023/09/29 星期五"}]},
     "mark": {"type": "text", "align": "left", "baseline": "middle", "font": "Noto Sans CJK SC", "fontSize": 13, "color": "#f0a030"},
     "encoding": {"y": {"field": "v", "type": "quantitative", "scale": {"domain": [35.5, 103.86], "nice": false, "zero": false}}, "text": {"field": "t"}}},
    {"data": {"values": [{"d":"2025-07-14","d2":"2025-12-14","v":57.69,"v2":39.7}]},
     "mark": {"type": "rect", "fill": "#f5821f", "cornerRadius": 4},
     "encoding": {"x2": {"field": "d2"}, "y": {"field": "v", "type": "quantitative", "scale": {"domain": [35.5, 103.86], "nice": false, "zero": false}}, "y2": {"field": "v2"}}},
    {"data": {"values": [{"d":"2025-09-28","v":48.69}]},
     "mark": {"type": "point", "shape": "circle", "size": 484, "filled": true, "fill": "#ffffff", "opacity": 1, "strokeWidth": 0},
     "encoding": {"y": {"field": "v", "type": "quantitative", "scale": {"domain": [35.5, 103.86], "nice": false, "zero": false}}}},
    {"data": {"values": [{"d":"2025-10-14","v":50.49}]},
     "mark": {"type": "point", "shape": "circle", "size": 256, "filled": true, "fill": "#f5821f", "opacity": 1, "strokeWidth": 0},
     "encoding": {"y": {"field": "v", "type": "quantitative", "scale": {"domain": [35.5, 103.86], "nice": false, "zero": false}}}},
    {"data": {"values": [{"d":"2026-01-29","v":49.89,"t":"汇金网"}]},
     "mark": {"type": "text", "align": "left", "baseline": "middle", "font": "Noto Sans CJK SC", "fontSize": 25, "color": "#f4f4f4"},
     "encoding": {"y": {"field": "v", "type": "quantitative", "scale": {"domain": [35.5, 103.86], "nice": false, "zero": false}}, "text": {"field": "t"}}},
    {"data": {"values": [{"d":"2026-01-29","v":38.5,"t":"www.gold678.com"}]},
     "mark": {"type": "text", "align": "left", "baseline": "middle", "font": "Liberation Sans", "fontSize": 8.5, "color": "#d0d0d0"},
     "encoding": {"y": {"field": "v", "type": "quantitative", "scale": {"domain": [35.5, 103.86], "nice": false, "zero": false}}, "text": {"field": "t"}}}
  ]
}
]
}
